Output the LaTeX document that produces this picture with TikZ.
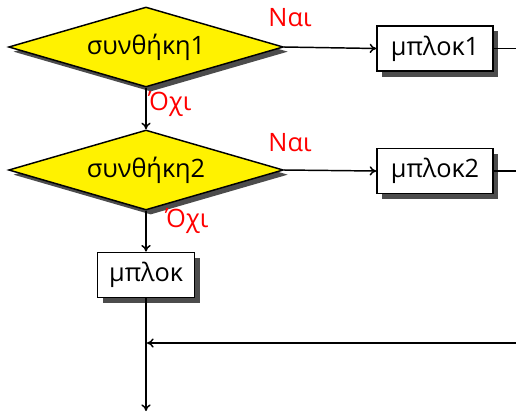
\documentclass[tikz,border=0pt]{standalone}
\usepackage{fontspec}
\setmainfont{Open Sans}
\usetikzlibrary{shapes.geometric,shadows,arrows.meta}

\tikzset{
  decision/.style={diamond, aspect=3.44, draw, line width=1.1pt, fill=yellow,
    minimum width=206pt, minimum height=60pt, inner sep=0pt,
    drop shadow={shadow xshift=3.5pt, shadow yshift=-3.5pt, fill=black!70, opacity=1},
    font=\fontsize{19}{22}\selectfont},
  block/.style={rectangle, draw, line width=1.1pt, fill=white,
    minimum width=87pt, minimum height=34pt, inner sep=2pt,
    drop shadow={shadow xshift=4pt, shadow yshift=-4pt, fill=black!70, opacity=1},
    font=\fontsize{19}{22}\selectfont},
  answer/.style={text=red, font=\fontsize{19}{22}\selectfont},
  flow/.style={line width=1.1pt, -{To[length=5pt,width=7pt]}},
  plain/.style={line width=1.1pt}
}

\begin{document}
\begin{tikzpicture}[x=0.75pt, y=-0.75pt]
  \useasboundingbox (0,0) rectangle (516,411);

  % decisions and blocks
  \node[decision] (d1) at (146,47) {συνθήκη1};
  \node[decision] (d2) at (146,170) {συνθήκη2};
  \node[block] (b1) at (435,48.5) {μπλοκ1};
  \node[block] (b2) at (435,171) {μπλοκ2};
  \node[block, minimum width=73pt] (b3) at (146,275) {μπλοκ};

  % loose ends of the connectors
  \coordinate (e1) at (516,48.5);
  \coordinate (e2) at (516,171);
  \coordinate (ein) at (516,343);
  \coordinate (join) at (147,343);
  \coordinate (out) at (146,411);

  % connectors
  \draw[flow] (d1.east) -- (b1.west);
  \draw[flow] (d2.east) -- (b2.west);
  \draw[flow] (d1.south) -- (d2.north);
  \draw[flow] (d2.south) -- (b3.north);
  \draw[plain] (b1.east) -- (e1);
  \draw[plain] (b2.east) -- (e2);
  \draw[flow] (b3.south) -- (out);
  \draw[flow] (ein) -- (join);

  % branch labels
  \node[answer] (y1) at (290,18) {Ναι};
  \node[answer] (n1) at (170,104) {Όχι};
  \node[answer] (y2) at (290,143) {Ναι};
  \node[answer] (n2) at (187,221) {Όχι};
\end{tikzpicture}
\end{document}
